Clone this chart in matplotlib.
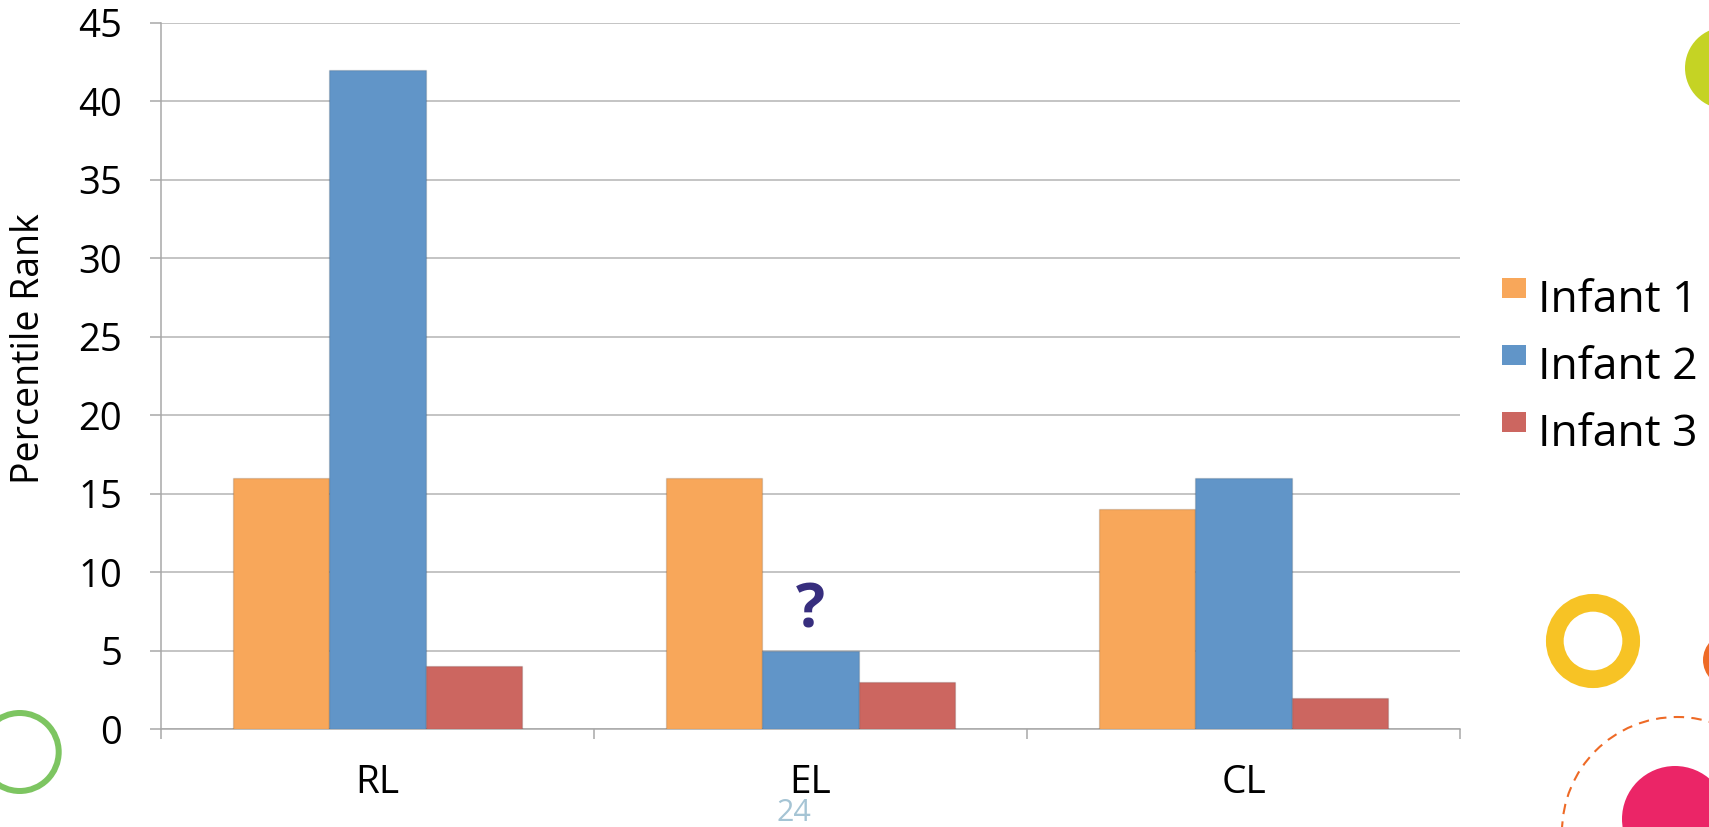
import matplotlib
matplotlib.use('Agg')
import matplotlib.pyplot as plt
from matplotlib.patches import Circle, Rectangle
from matplotlib.transforms import IdentityTransform
import numpy as np

# ---- data ----
categories = ['RL', 'EL', 'CL']
series_names = ['Infant 1', 'Infant 2', 'Infant 3']
infant1 = [16, 16, 14]
infant2 = [42, 5, 16]
infant3 = [4, 3, 2]
y_ticks = [0, 5, 10, 15, 20, 25, 30, 35, 40, 45]
y_label = 'Percentile Rank'
annotation_text = '?'
page_number = '24'

series = [infant1, infant2, infant3]
colors = ['#F8A75A', '#6195C8', '#CC6660']

plt.rcParams['font.family'] = ['Open Sans', 'DejaVu Sans']

W, H = 1709, 827
fig = plt.figure(figsize=(W / 100, H / 100), dpi=100)
fig.patch.set_facecolor('white')

def px(x, y):
    return (x, H - y)

ax = fig.add_axes([161 / W, (H - 729.3) / H, (1460 - 161) / W, (729.3 - 22.7) / H])

x = np.arange(len(categories))
bw = 0.222
for i, (vals, col) in enumerate(zip(series, colors)):
    ax.bar(x + (i - 1) * bw, vals, bw, color=col, edgecolor=(0, 0, 0, 0.13),
           linewidth=1, zorder=3)

ax.set_xlim(-0.5, len(categories) - 0.5)
ax.set_ylim(y_ticks[0], y_ticks[-1])
ax.set_yticks(y_ticks)
ax.yaxis.grid(True, color='#b4b4b4', linewidth=1.1, zorder=0)
ax.set_axisbelow(True)
for s in ['top', 'right']:
    ax.spines[s].set_visible(False)
for s in ['left', 'bottom']:
    ax.spines[s].set_color('#a8a8a8')
    ax.spines[s].set_linewidth(1.1)

ax.tick_params(axis='y', length=7.9, width=1.1, color='#a8a8a8', pad=20,
               labelsize=27.5, labelcolor='black')
ax.set_xticks(np.arange(len(categories) + 1) - 0.5)
ax.set_xticklabels([])
ax.tick_params(axis='x', which='major', length=7.2, width=1.1, color='#a8a8a8')
ax.set_xticks(x, minor=True)
ax.set_xticklabels(categories, minor=True)
ax.tick_params(axis='x', which='minor', length=0, pad=25, labelsize=28,
               labelcolor='black')

# annotation over the EL / Infant 2 bar
ax.text(x[1], 7.5, annotation_text, ha='center', va='center', fontsize=44,
        fontweight='bold', color='#372E7E', zorder=4)

# y label
fig.text(29 / W, 1 - 349 / H, y_label, rotation=90, ha='center', va='center',
         fontsize=27)

# legend (manual, right side)
for i, (name, col) in enumerate(zip(series_names, colors)):
    yt = 278 + i * 67
    fig.add_artist(Rectangle(px(1502, yt + 20), 24, 20, transform=IdentityTransform(),
                             facecolor=col, edgecolor='none'))
    fig.text(1538 / W, 1 - (312 + i * 67) / H, name, ha='left', va='baseline',
             fontsize=32, color='black')

# page number
fig.text(794 / W, 1 - 813 / H, page_number, ha='center', va='center', fontsize=22,
         color='#A5C4D4')

# decorative circles
T = IdentityTransform()
fig.add_artist(Circle(px(19.7, 752), 39, transform=T, fill=False,
                      edgecolor='#7DC561', linewidth=6 * 0.72))
fig.add_artist(Circle(px(1593, 641), 38.2, transform=T, fill=False,
                      edgecolor='#F7C325', linewidth=17.7 * 0.72))
fig.add_artist(Circle(px(1726, 68), 41, transform=T, facecolor='#C5D324',
                      edgecolor='none'))
fig.add_artist(Circle(px(1730, 660), 27, transform=T, facecolor='#EE6A26',
                      edgecolor='none'))
fig.add_artist(Circle(px(1677, 832), 115, transform=T, fill=False,
                      edgecolor='#EE6A26', linewidth=1.5, linestyle=(0, (5, 3.5))))
fig.add_artist(Circle(px(1675, 819), 53, transform=T, facecolor='#EB2567',
                      edgecolor='none'))

fig.savefig('out.png', dpi=100)
